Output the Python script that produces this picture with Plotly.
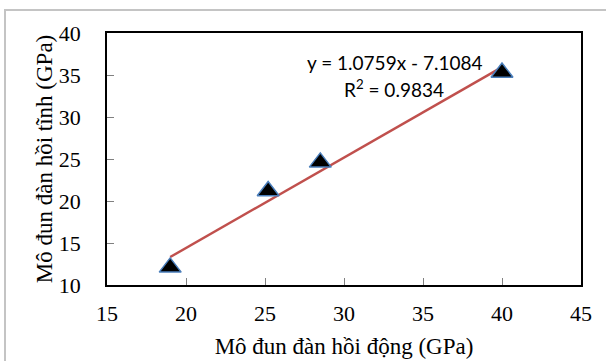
import plotly.graph_objects as go

# Data
dynamic_modulus = [19.0, 25.2, 28.5, 40.0]   # x, GPa
static_modulus = [12.1, 21.2, 24.6, 35.3]    # y, GPa

# Trendline as reported on the chart
slope = 1.0759
intercept = -7.1084
r_squared = 0.9834

x_ticks = [15, 20, 25, 30, 35, 40, 45]
y_ticks = [10, 15, 20, 25, 30, 35, 40]

trend_x = [min(dynamic_modulus), max(dynamic_modulus)]
trend_y = [slope * v + intercept for v in trend_x]

W, H = 606, 361

fig = go.Figure()
# light outer frame of the original picture (top and left edges), drawn in a
# full-page pixel overlay subplot
fig.add_trace(go.Scatter(
    x=[5, 5, W], y=[H, 10, 10], mode="lines",
    xaxis="x2", yaxis="y2", cliponaxis=False,
    line=dict(color="#C4C4C4", width=2),
    showlegend=False, hoverinfo="skip",
))
fig.add_trace(go.Scatter(
    x=trend_x, y=trend_y, mode="lines",
    line=dict(color="#C0504D", width=2.5),
    showlegend=False, hoverinfo="skip",
))
fig.add_trace(go.Scatter(
    x=dynamic_modulus, y=static_modulus, mode="markers",
    marker=dict(symbol="triangle-up", size=19, color="black",
                line=dict(color="#4A7EBB", width=1.5)),
    showlegend=False,
))

serif = "Liberation Serif"
axis_common = dict(
    showgrid=False, zeroline=False, automargin=False,
    showline=True, linecolor="black", linewidth=1.5, mirror=True,
    ticks="inside", ticklen=7, tickcolor="#808080", tickwidth=1,
    tickfont=dict(family=serif, size=22, color="black"),
)

fig.update_layout(
    width=W, height=H,
    margin=dict(l=0, r=0, t=0, b=0),
    paper_bgcolor="white", plot_bgcolor="rgba(0,0,0,0)",
    font=dict(family=serif, color="black"),
    xaxis=dict(range=[15, 45], tickvals=x_ticks, ticklabelstandoff=8,
               domain=[107 / W, 581 / W],
               title=dict(text="Mô đun đàn hồi động (GPa)",
                          font=dict(family=serif, size=23, color="black"),
                          standoff=13),
               **axis_common),
    yaxis=dict(range=[10, 40], tickvals=y_ticks, ticklabelstandoff=20,
               domain=[(H - 285) / H, (H - 33) / H],
               title=dict(text="Mô đun đàn hồi tĩnh (GPa)",
                          font=dict(family=serif, size=23, color="black"),
                          standoff=0),
               **axis_common),
    xaxis2=dict(domain=[0, 1], range=[0, W], visible=False, anchor="y2",
                fixedrange=True),
    yaxis2=dict(domain=[0, 1], range=[H, 0], visible=False, anchor="x2",
                fixedrange=True),
)

sans = "Lato"
fig.add_annotation(
    xref="paper", yref="paper", x=395 / W, y=(H - 62) / H,
    text=f"y = {slope}x - {abs(intercept)}", showarrow=False,
    font=dict(family=sans, size=19, color="black"),
    xanchor="center", yanchor="middle",
)
fig.add_annotation(
    xref="paper", yref="paper", x=394 / W, y=(H - 89) / H,
    text=f"R<sup>2</sup> = {r_squared}", showarrow=False,
    font=dict(family=sans, size=19, color="black"),
    xanchor="center", yanchor="middle",
)

fig.write_html("out.html", config={"displayModeBar": False},
               post_script="document.body.style.margin='0';")
